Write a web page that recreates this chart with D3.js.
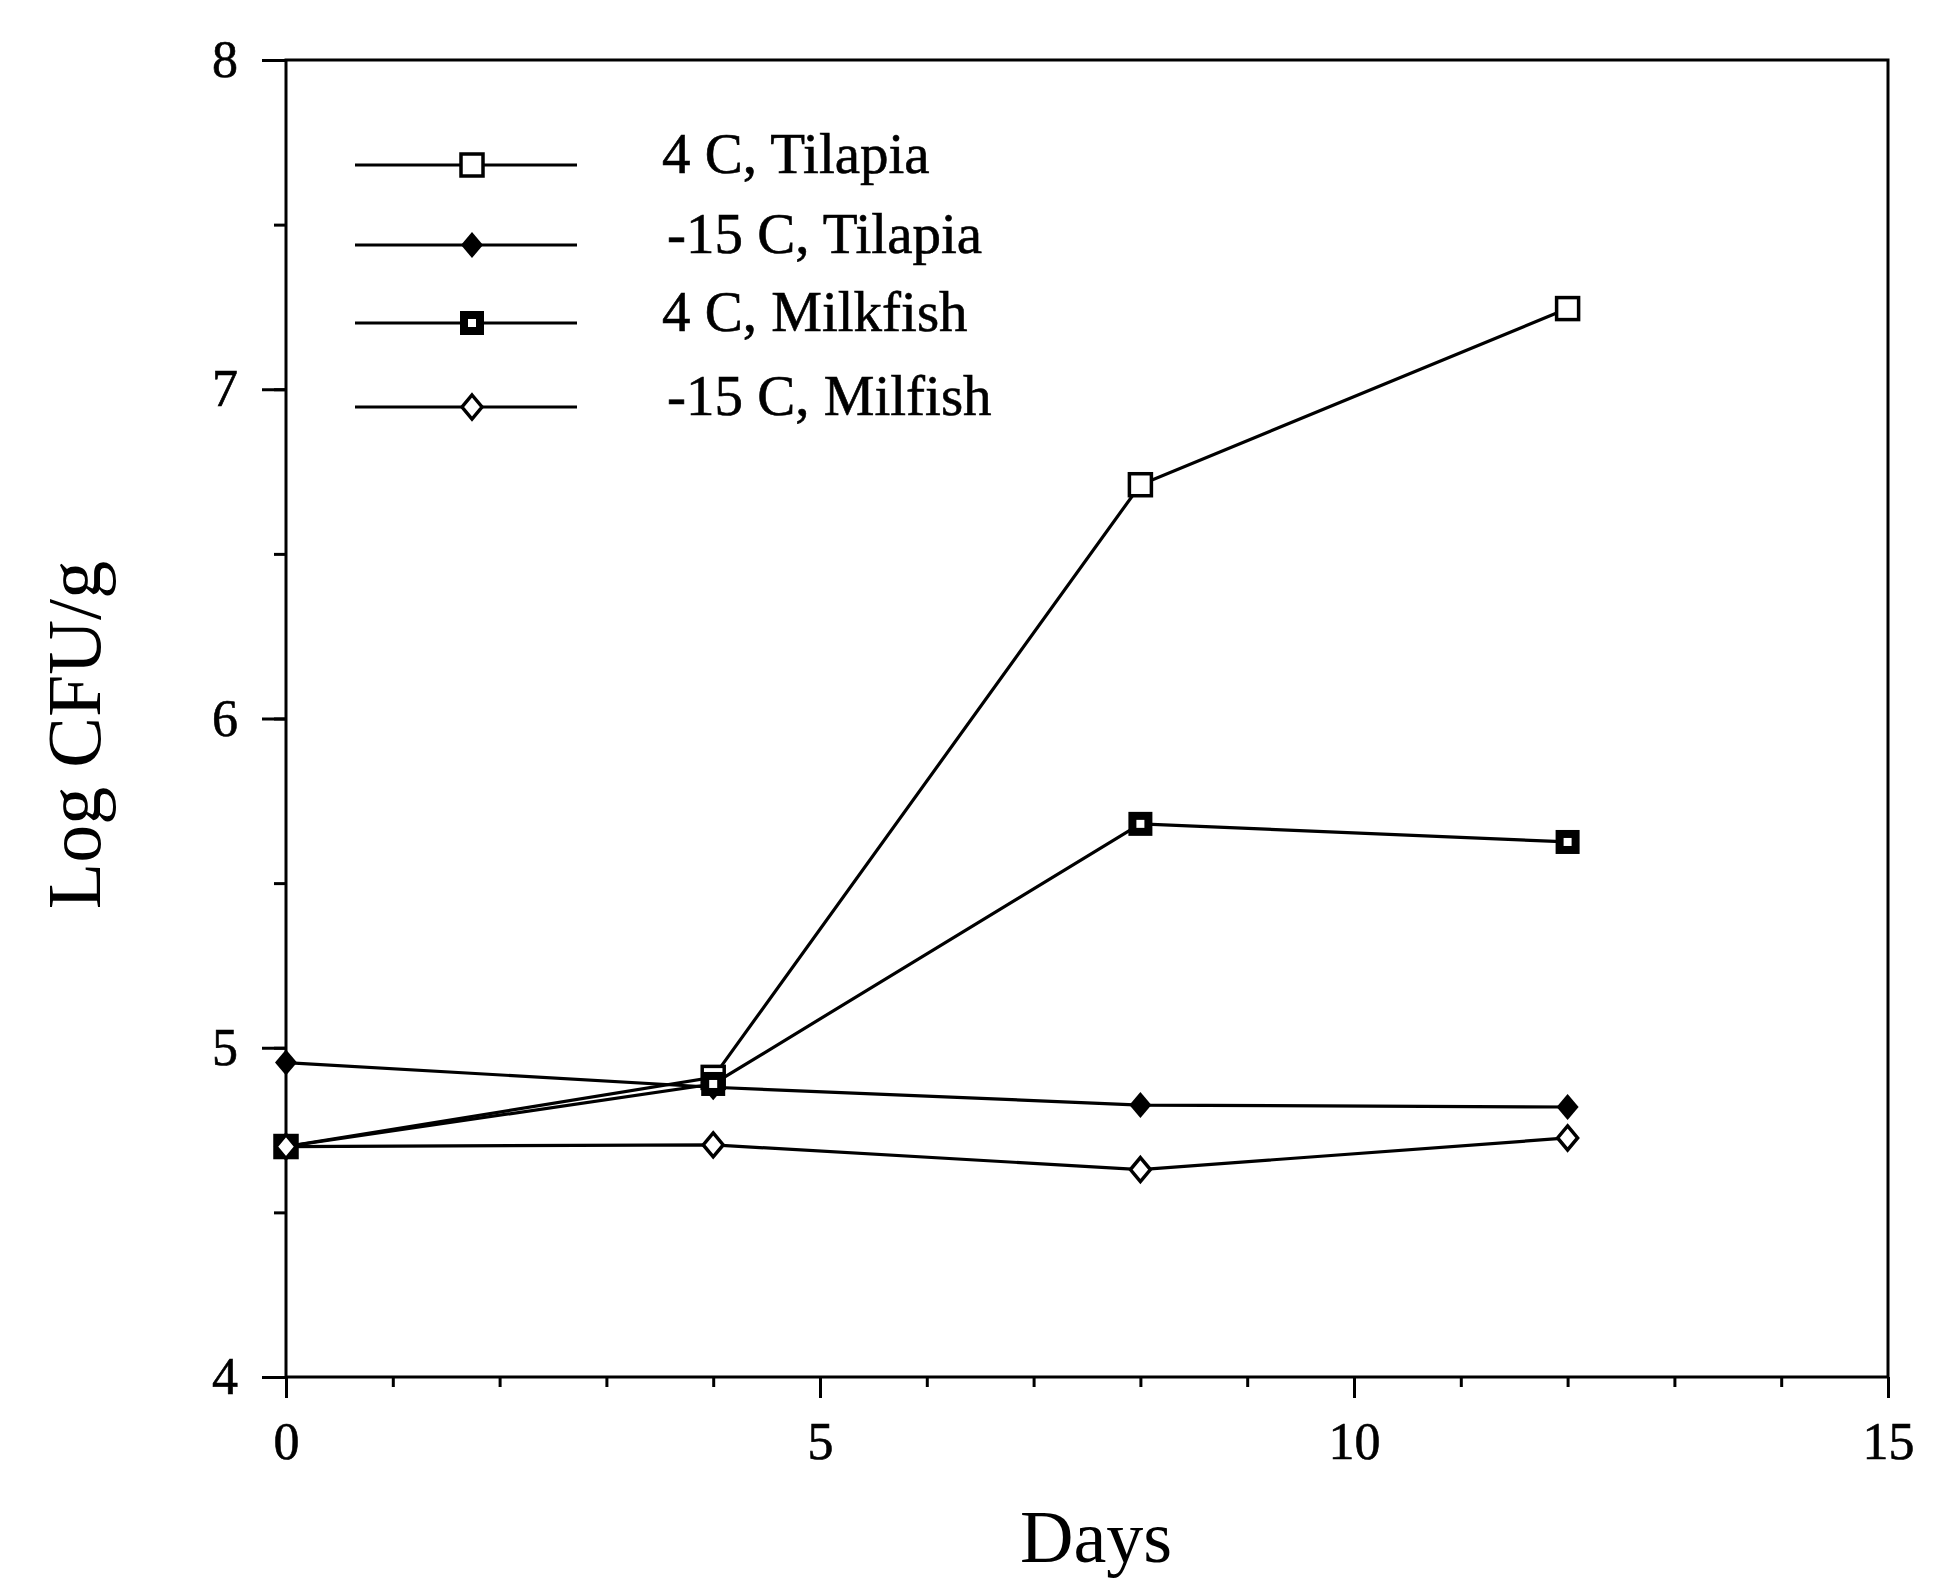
<!DOCTYPE html>
<html>
<head>
<meta charset="utf-8">
<script src="https://cdn.jsdelivr.net/npm/d3@7"></script>
<style>
  body { margin: 0; background: #fff; }
  svg text { font-family: "Liberation Serif", "Times New Roman", serif; fill: #000; }
</style>
</head>
<body>
<div id="chart"></div>
<script>
const days = [0, 4, 8, 12];
const tilapia4 = [4.70, 4.91, 6.71, 7.245];
const tilapiaMinus15 = [4.955, 4.88, 4.826, 4.82];
const milkfish4 = [4.70, 4.89, 5.68, 5.625];
const milkfishMinus15 = [4.70, 4.705, 4.63, 4.726];
const seriesNames = ['4 C, Tilapia', '-15 C, Tilapia', '4 C, Milkfish', '-15 C, Milfish'];
const xMajorTicks = [0, 5, 10, 15];
const yMajorTicks = [4, 5, 6, 7, 8];

const width = 1952;
const height = 1588;
const margin = {top: 60, right: 64, bottom: 211, left: 286};

const series = [
    {name: seriesNames[0], values: tilapia4, marker: 'openSquare'},
    {name: seriesNames[1], values: tilapiaMinus15, marker: 'filledDiamond'},
    {name: seriesNames[2], values: milkfish4, marker: 'dotSquare'},
    {name: seriesNames[3], values: milkfishMinus15, marker: 'openDiamond'}
];

const svg = d3.select('#chart')
    .append('svg')
        .attr('width', width)
        .attr('height', height)
        .attr('viewBox', [0, 0, width, height]);

const x = d3.scaleLinear()
    .domain([0, 15])
    .range([margin.left, width - margin.right]);

const y = d3.scaleLinear()
    .domain([4, 8])
    .range([height - margin.bottom, margin.top]);

// minor ticks
svg.append('g')
    .attr('transform', `translate(0, ${y(4)})`)
    .call(d3.axisBottom(x).tickValues(d3.range(0, 16)).tickSize(10).tickSizeOuter(0).tickFormat(''))
    .call(g => g.select('.domain').remove());

svg.append('g')
    .attr('transform', `translate(${x(0)}, 0)`)
    .call(d3.axisLeft(y).tickValues(d3.range(4, 8.01, 0.5)).tickSize(12).tickSizeOuter(0).tickFormat(''))
    .call(g => g.select('.domain').remove());

// major ticks with labels
svg.append('g')
    .attr('transform', `translate(0, ${y(4)})`)
    .call(d3.axisBottom(x).tickValues(xMajorTicks).tickSize(21).tickPadding(24).tickFormat(d3.format('d')))
    .call(g => g.select('.domain').remove())
    .call(g => g.selectAll('text').attr('font-size', 52).attr('font-family', '"Liberation Serif", serif')
        .attr('stroke', '#000').attr('stroke-width', 0.6));

svg.append('g')
    .attr('transform', `translate(${x(0)}, 0)`)
    .call(d3.axisLeft(y).tickValues(yMajorTicks).tickSize(24).tickPadding(24).tickFormat(d3.format('d')))
    .call(g => g.select('.domain').remove())
    .call(g => g.selectAll('text').attr('font-size', 52).attr('font-family', '"Liberation Serif", serif')
        .attr('stroke', '#000').attr('stroke-width', 0.6));

svg.selectAll('.tick line').attr('stroke', '#000').attr('stroke-width', 3);

// frame
svg.append('rect')
    .attr('x', x(0))
    .attr('y', y(8))
    .attr('width', x(15) - x(0))
    .attr('height', y(4) - y(8))
    .attr('fill', 'none')
    .attr('stroke', '#000')
    .attr('stroke-width', 3);

// axis titles
svg.append('text')
    .attr('x', 1096)
    .attr('y', 1562)
    .attr('text-anchor', 'middle')
    .attr('font-size', 74)
    .text('Days');

svg.append('text')
    .attr('transform', 'translate(100, 735) rotate(-90)')
    .attr('text-anchor', 'middle')
    .attr('font-size', 76)
    .text('Log CFU/g');

// marker drawing
function drawMarker(g, type) {
    if (type === 'openSquare') {
        g.append('rect').attr('x', -11).attr('y', -11).attr('width', 22).attr('height', 22)
            .attr('fill', '#fff').attr('stroke', '#000').attr('stroke-width', 3.5);
    } else if (type === 'filledDiamond') {
        g.append('path').attr('d', 'M0,-13L11,0L0,13L-11,0Z').attr('fill', '#000');
    } else if (type === 'dotSquare') {
        g.append('rect').attr('x', -12).attr('y', -12).attr('width', 24).attr('height', 24).attr('fill', '#000');
        g.append('rect').attr('x', -4).attr('y', -4).attr('width', 8).attr('height', 8).attr('fill', '#fff');
    } else {
        g.append('path').attr('d', 'M0,-12L10,0L0,12L-10,0Z')
            .attr('fill', '#fff').attr('stroke', '#000').attr('stroke-width', 3.5);
    }
}

const line = d3.line()
    .x((d, i) => x(days[i]))
    .y(d => y(d));

svg.append('g')
    .selectAll('path')
    .data(series)
    .join('path')
        .attr('d', d => line(d.values))
        .attr('fill', 'none')
        .attr('stroke', '#000')
        .attr('stroke-width', 3.2);

series.forEach(s => {
    s.values.forEach((v, i) => {
        const g = svg.append('g').attr('transform', `translate(${x(days[i])}, ${y(v)})`);
        drawMarker(g, s.marker);
    });
});

// legend
const legendRows = [165, 245, 323, 407];
const legend = svg.append('g');
series.forEach((s, i) => {
    legend.append('line')
        .attr('x1', 355).attr('x2', 577)
        .attr('y1', legendRows[i]).attr('y2', legendRows[i])
        .attr('stroke', '#000').attr('stroke-width', 3);
    const g = legend.append('g').attr('transform', `translate(472, ${legendRows[i]})`);
    drawMarker(g, s.marker);
    legend.append('text')
        .attr('x', i % 2 === 0 ? 662 : 667)
        .attr('y', legendRows[i] + 8)
        .attr('font-size', 57)
        .attr('stroke', '#000')
        .attr('stroke-width', 0.6)
        .text(s.name);
});
</script>
</body>
</html>
